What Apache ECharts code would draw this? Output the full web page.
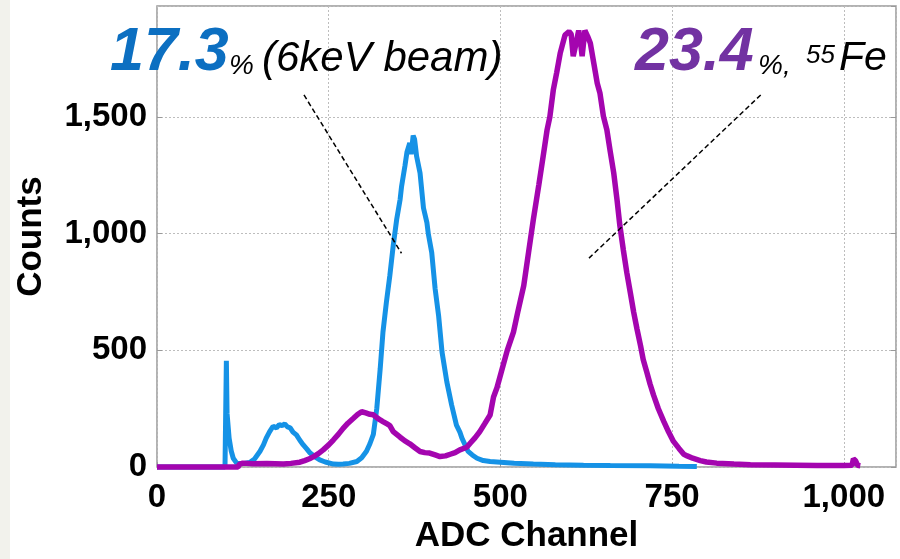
<!DOCTYPE html>
<html>
<head>
<meta charset="utf-8">
<script src="https://cdn.jsdelivr.net/npm/echarts@6/dist/echarts.min.js"></script>
<style>
  html, body { margin: 0; padding: 0; background: #ffffff; }
  #chart { width: 900px; height: 559px; }
</style>
</head>
<body>
<div id="chart"></div>
<script>
// ADC spectra: [channel, counts]
const beam6keV = [
  [0,0],[60,0],[99,0],[100,0],[101,455],[102,230],[105,124],[108,70],[111,38],[116,17],
  [125,15],[135,20],[142,35],[150,68],[155,95],[159,124],[164,152],[169,175],[174,168],
  [178,182],[182,178],[186,185],[190,172],[194,168],[198,150],[203,138],[208,115],
  [213,95],[218,78],[223,60],[230,44],[237,31],[245,22],[257,13],[264,12],[271,13],
  [280,16],[291,24],[298,40],[305,68],[310,100],[315,140],[320,251],[325,422],[329,578],
  [334,706],[339,820],[344,950],[349,1061],[354,1147],[356,1200],[361,1290],[364,1350],
  [368,1388],[370,1340],[373,1420],[375,1405],[378,1331],[383,1260],[385,1200],[388,1110],
  [393,1047],[395,1000],[400,919],[405,763],[410,649],[415,493],[422,365],[429,266],
  [436,180],[441,150],[444,124],[453,67],[459,52],[466,38],[475,28],[485,24],[500,21],
  [520,16],[548,13],[580,10],[621,8],[660,7],[718,6],[760,4],[786,3]
];

const fe55 = [
  [0,0],[60,0],[118,0],[120,12],[125,17],[140,14],[160,15],[184,13],[195,16],[208,21],
  [215,28],[222,36],[228,45],[235,58],[242,74],[250,95],[257,117],[264,140],[271,166],
  [278,188],[286,209],[292,225],[298,237],[304,232],[310,226],[315,224],[320,212],
  [325,202],[329,195],[335,185],[339,178],[344,152],[349,140],[354,128],[361,112],
  [368,100],[376,82],[383,67],[390,62],[397,60],[405,52],[412,45],[420,48],[427,55],
  [434,62],[441,74],[451,85],[456,102],[463,125],[470,152],[477,185],[485,223],[490,300],
  [495,340],[504,436],[510,500],[519,578],[525,660],[534,777],[541,920],[548,1061],
  [556,1210],[563,1346],[568,1445],[572,1500],[577,1615],[582,1690],[587,1772],[594,1850],
  [600,1865],[603,1855],[606,1760],[609,1800],[614,1870],[617,1810],[619,1760],[623,1870],
  [627,1845],[631,1815],[636,1730],[641,1644],[645,1601],[650,1502],[655,1445],[660,1350],
  [665,1260],[670,1140],[674,1033],[679,930],[684,834],[689,750],[694,664],[699,590],
  [704,521],[708,460],[713,408],[718,355],[723,308],[730,250],[738,195],[745,150],
  [752,110],[760,80],[767,55],[772,48],[780,38],[791,28],[800,22],[815,17],[840,13],
  [864,10],[900,9],[961,7],[1000,7],[1012,8],[1014,35],[1017,28],[1020,8],[1024,6]
];

const xTicks = [0, 250, 500, 750, 1000];
const yTicks = [0, 500, 1000, 1500];

// leader lines from the resolution labels to their peaks, in data units
const beamPointer = [[214, 1594], [356, 916]];
const fePointer = [[879, 1594], [629, 895]];

const BLUE_LINE = '#1592e6';
const PURPLE_LINE = '#a405af';
const BLUE_TEXT = '#0c6fc1';
const PURPLE_TEXT = '#7232a2';
const FONT = '"Liberation Sans", Arial, Helvetica, sans-serif';

const fmt = v => v.toLocaleString('en-US');
const tickLabel = list => v => (list.indexOf(v) >= 0 ? fmt(v) : '');

const chart = echarts.init(document.getElementById('chart'), null, { renderer: 'canvas' });

function text(str, x, y, size, color, weight) {
  return {
    type: 'text', left: x, top: y,
    style: {
      text: str, fill: color,
      font: 'italic ' + (weight || 'normal') + ' ' + size + 'px ' + FONT
    },
    z: 100
  };
}

chart.setOption({
  animation: false,
  backgroundColor: '#ffffff',
  grid: {
    left: 157, top: 6, width: 739, height: 463,
    show: true, borderColor: '#999999', borderWidth: 1.5, backgroundColor: 'transparent'
  },
  xAxis: {
    type: 'value', min: 0, max: 1076, interval: 250,
    name: 'ADC Channel', nameLocation: 'middle', nameGap: 48,
    nameTextStyle: { fontFamily: FONT, fontWeight: 'bold', fontSize: 35, color: '#000' },
    axisLine: { show: false },
    axisTick: { show: true, inside: true, length: 5, lineStyle: { color: '#999' } },
    axisLabel: {
      formatter: tickLabel(xTicks), margin: 14, showMaxLabel: false,
      fontFamily: FONT, fontWeight: 'bold', fontSize: 33, color: '#000'
    },
    splitLine: { show: true, lineStyle: { color: '#bdbdbd', width: 1, type: [2, 2] } }
  },
  yAxis: [{
    type: 'value', min: 0, max: 1975, interval: 500,
    name: 'Counts', nameLocation: 'middle', nameGap: 108, nameRotate: 90,
    nameTextStyle: { fontFamily: FONT, fontWeight: 'bold', fontSize: 35, color: '#000' },
    axisLine: { show: false },
    axisTick: { show: true, inside: true, length: 5, lineStyle: { color: '#999' } },
    axisLabel: {
      formatter: tickLabel(yTicks), margin: 10, showMaxLabel: false,
      fontFamily: FONT, fontWeight: 'bold', fontSize: 33, color: '#000'
    },
    splitLine: { show: true, lineStyle: { color: '#bdbdbd', width: 1, type: [2, 2] } }
  }, {
    type: 'value', min: 0, max: 1975, interval: 500, position: 'right',
    axisLine: { show: false },
    axisTick: { show: true, inside: true, length: 5, lineStyle: { color: '#999' } },
    axisLabel: { show: false },
    splitLine: { show: false }
  }],
  series: [{
    name: '6keV beam', type: 'line', data: beam6keV, showSymbol: false, clip: false,
    lineStyle: { color: BLUE_LINE, width: 5, join: 'bevel' }, z: 3,
    markLine: {
      silent: true, symbol: 'none', label: { show: false },
      lineStyle: { color: '#000', width: 1.5, type: [5, 3] },
      data: [[{ coord: beamPointer[0] }, { coord: beamPointer[1] }]]
    }
  }, {
    name: '55Fe', type: 'line', data: fe55, showSymbol: false, clip: false,
    lineStyle: { color: PURPLE_LINE, width: 5.5, join: 'bevel' }, z: 4,
    markLine: {
      silent: true, symbol: 'none', label: { show: false },
      lineStyle: { color: '#000', width: 1.5, type: [5, 3] },
      data: [[{ coord: fePointer[0] }, { coord: fePointer[1] }]]
    }
  }],
  graphic: [
    { type: 'rect', left: 0, top: 0, shape: { width: 10, height: 559 }, style: { fill: '#f2f2ec' }, z: 0 },
    text('17.3', 110, 23, 61, BLUE_TEXT, 'bold'),
    text('%', 229, 52, 28, '#000'),
    text('(6keV beam)', 262, 38, 42, '#000'),
    text('23.4', 635, 23, 61, PURPLE_TEXT, 'bold'),
    text('%,', 758, 52, 28, '#000'),
    text('55', 806, 43, 26, '#000'),
    text('Fe', 839, 38, 41, '#000')
  ]
});
</script>
</body>
</html>
